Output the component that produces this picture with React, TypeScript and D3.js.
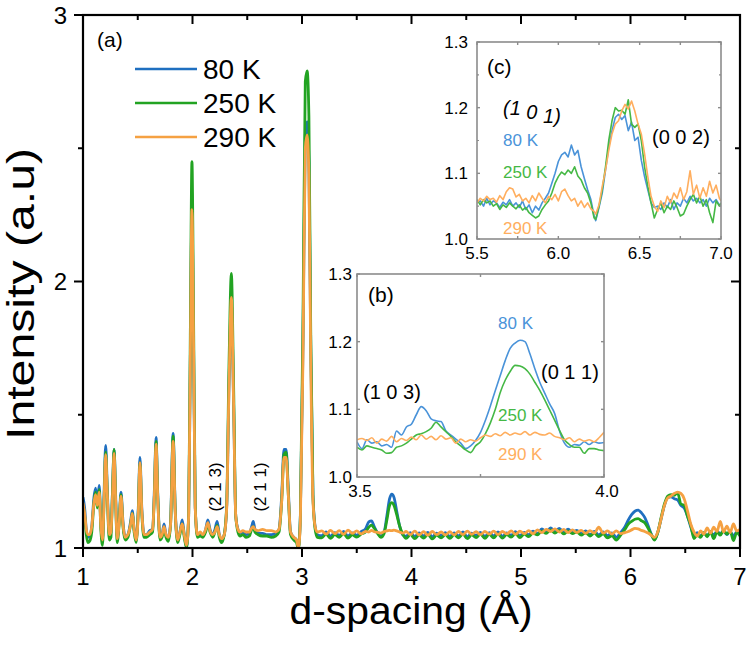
import React from "react";
import * as d3 from "d3";

// ---------------- data ----------------
const mainD = [
  1.0, 1.015, 1.03, 1.045, 1.06, 1.08, 1.1, 1.115, 1.13, 1.148, 1.163, 1.178, 1.192, 1.207, 1.222, 1.24, 1.255, 1.27, 1.284, 1.298,
  1.312, 1.33, 1.347, 1.365, 1.385, 1.41, 1.435, 1.45, 1.467, 1.485, 1.505, 1.52, 1.537, 1.558, 1.58, 1.61, 1.635, 1.652, 1.667, 1.683,
  1.703, 1.722, 1.74, 1.758, 1.78, 1.8, 1.823, 1.842, 1.865, 1.885, 1.906, 1.925, 1.945, 1.965, 1.98, 1.995, 2.01, 2.025, 2.045, 2.07,
  2.095, 2.12, 2.14, 2.16, 2.185, 2.205, 2.225, 2.245, 2.265, 2.29, 2.312, 2.333, 2.355, 2.375, 2.395, 2.415, 2.435, 2.46, 2.49, 2.52,
  2.54, 2.555, 2.57, 2.6, 2.64, 2.68, 2.72, 2.76, 2.79, 2.815, 2.835, 2.855, 2.875, 2.895, 2.925, 2.95, 2.967, 2.985, 3.01, 3.03,
  3.047, 3.063, 3.08, 3.1, 3.12, 3.14, 3.18, 3.22, 3.26, 3.3, 3.34, 3.38, 3.42, 3.46, 3.5, 3.54, 3.58, 3.61, 3.635, 3.66,
  3.69, 3.72, 3.75, 3.775, 3.8, 3.82, 3.84, 3.865, 3.89, 3.92, 3.95, 3.99, 4.03, 4.07, 4.11, 4.15, 4.19, 4.23, 4.27, 4.31,
  4.35, 4.39, 4.43, 4.47, 4.51, 4.55, 4.59, 4.63, 4.67, 4.71, 4.75, 4.79, 4.83, 4.87, 4.91, 4.95, 4.99, 5.03, 5.07, 5.11,
  5.15, 5.19, 5.23, 5.27, 5.31, 5.35, 5.39, 5.43, 5.47, 5.51, 5.55, 5.59, 5.63, 5.67, 5.71, 5.75, 5.79, 5.83, 5.87, 5.91,
  5.95, 5.98, 6.01, 6.04, 6.07, 6.1, 6.13, 6.16, 6.19, 6.22, 6.25, 6.28, 6.31, 6.34, 6.37, 6.4, 6.43, 6.46, 6.49, 6.52,
  6.55, 6.58, 6.61, 6.64, 6.67, 6.7, 6.73, 6.76, 6.79, 6.82, 6.85, 6.88, 6.91, 6.94, 6.97, 7.0,
];
const mainBlue = [
  1.19, 1.15, 1.07, 1.04, 1.045, 1.08, 1.19, 1.225, 1.17, 1.235, 1.09, 1.03, 1.2, 1.385, 1.22, 1.05, 1.06, 1.22, 1.37, 1.2,
  1.04, 1.1, 1.21, 1.1, 1.04, 1.05, 1.1, 1.14, 1.07, 1.03, 1.15, 1.34, 1.15, 1.05, 1.05, 1.065, 1.07, 1.22, 1.415, 1.2,
  1.04, 1.05, 1.09, 1.05, 1.035, 1.1, 1.43, 1.15, 1.03, 1.06, 1.105, 1.05, 1.005, 1.12, 1.7, 2.25, 1.75, 1.15, 1.05, 1.055,
  1.05, 1.07, 1.105, 1.07, 1.05, 1.07, 1.1, 1.05, 1.03, 1.05, 1.15, 1.6, 1.92, 1.55, 1.12, 1.07, 1.055, 1.06, 1.05, 1.055,
  1.08, 1.1, 1.07, 1.055, 1.055, 1.05, 1.05, 1.055, 1.07, 1.2, 1.37, 1.37, 1.22, 1.06, 1.04, 1.03, 1.0, 1.12, 1.8, 2.55,
  2.6, 2.45, 1.75, 1.2, 1.08, 1.05, 1.046, 1.06, 1.044, 1.058, 1.047, 1.062, 1.045, 1.057, 1.048, 1.061, 1.072, 1.098, 1.102, 1.08,
  1.057, 1.045, 1.06, 1.12, 1.185, 1.202, 1.19, 1.138, 1.085, 1.05, 1.044, 1.058, 1.043, 1.057, 1.045, 1.059, 1.042, 1.056, 1.046, 1.058,
  1.043, 1.057, 1.045, 1.06, 1.042, 1.056, 1.047, 1.059, 1.043, 1.058, 1.045, 1.06, 1.044, 1.057, 1.048, 1.061, 1.046, 1.059, 1.05, 1.063,
  1.054, 1.072, 1.06, 1.075, 1.062, 1.074, 1.059, 1.071, 1.06, 1.066, 1.054, 1.064, 1.05, 1.062, 1.049, 1.06, 1.046, 1.057, 1.04, 1.058,
  1.08, 1.105, 1.125, 1.138, 1.142, 1.132, 1.115, 1.085, 1.052, 1.032, 1.06, 1.11, 1.16, 1.19, 1.192, 1.185, 1.18, 1.16, 1.15, 1.12,
  1.08, 1.048, 1.058, 1.044, 1.057, 1.046, 1.06, 1.048, 1.064, 1.052, 1.066, 1.05, 1.062, 1.045, 1.06, 1.05,
];
const mainGreen = [
  1.16, 1.12, 1.05, 1.02, 1.025, 1.06, 1.17, 1.21, 1.15, 1.22, 1.07, 1.01, 1.17, 1.36, 1.2, 1.03, 1.04, 1.22, 1.37, 1.18,
  1.02, 1.09, 1.2, 1.08, 1.03, 1.04, 1.09, 1.13, 1.06, 1.02, 1.14, 1.32, 1.13, 1.04, 1.04, 1.05, 1.06, 1.2, 1.4, 1.19,
  1.03, 1.04, 1.07, 1.04, 1.025, 1.09, 1.42, 1.14, 1.02, 1.05, 1.09, 1.04, 1.0, 1.13, 1.8, 2.45, 1.85, 1.16, 1.04, 1.045,
  1.04, 1.06, 1.09, 1.06, 1.04, 1.06, 1.085, 1.04, 1.02, 1.05, 1.16, 1.68, 2.03, 1.62, 1.12, 1.06, 1.045, 1.05, 1.04, 1.045,
  1.07, 1.08, 1.06, 1.05, 1.045, 1.045, 1.04, 1.045, 1.06, 1.18, 1.35, 1.36, 1.2, 1.05, 1.03, 1.02, 0.995, 1.12, 1.9, 2.75,
  2.79, 2.62, 1.8, 1.2, 1.07, 1.04, 1.038, 1.052, 1.036, 1.05, 1.04, 1.054, 1.037, 1.049, 1.041, 1.052, 1.06, 1.078, 1.086, 1.074,
  1.055, 1.04, 1.055, 1.105, 1.16, 1.17, 1.16, 1.125, 1.085, 1.052, 1.036, 1.05, 1.035, 1.049, 1.037, 1.051, 1.034, 1.048, 1.038, 1.05,
  1.036, 1.05, 1.038, 1.052, 1.035, 1.049, 1.039, 1.052, 1.036, 1.051, 1.038, 1.053, 1.037, 1.05, 1.041, 1.054, 1.039, 1.052, 1.043, 1.056,
  1.049, 1.064, 1.055, 1.068, 1.056, 1.066, 1.053, 1.064, 1.054, 1.06, 1.048, 1.057, 1.045, 1.056, 1.043, 1.053, 1.038, 1.046, 1.03, 1.048,
  1.07, 1.09, 1.1, 1.108, 1.11, 1.102, 1.095, 1.075, 1.05, 1.03, 1.06, 1.115, 1.165, 1.195, 1.2, 1.198, 1.208, 1.165, 1.16, 1.12,
  1.085, 1.035, 1.05, 1.04, 1.058, 1.042, 1.062, 1.035, 1.06, 1.048, 1.066, 1.052, 1.064, 1.028, 1.058, 1.045,
];
const mainOrange = [
  1.17, 1.13, 1.07, 1.05, 1.05, 1.08, 1.17, 1.2, 1.16, 1.21, 1.08, 1.03, 1.17, 1.35, 1.2, 1.05, 1.06, 1.2, 1.355, 1.18,
  1.035, 1.09, 1.195, 1.09, 1.04, 1.05, 1.09, 1.13, 1.07, 1.03, 1.13, 1.32, 1.14, 1.05, 1.05, 1.06, 1.07, 1.2, 1.39, 1.18,
  1.04, 1.05, 1.08, 1.05, 1.04, 1.09, 1.4, 1.14, 1.03, 1.06, 1.09, 1.05, 1.01, 1.12, 1.7, 2.27, 1.75, 1.15, 1.05, 1.06,
  1.05, 1.07, 1.095, 1.065, 1.05, 1.06, 1.08, 1.05, 1.035, 1.05, 1.15, 1.6, 1.94, 1.55, 1.12, 1.07, 1.06, 1.065, 1.06, 1.06,
  1.075, 1.08, 1.07, 1.065, 1.07, 1.065, 1.065, 1.06, 1.07, 1.18, 1.34, 1.34, 1.2, 1.06, 1.04, 1.03, 1.0, 1.1, 1.75, 2.5,
  2.55, 2.4, 1.7, 1.18, 1.08, 1.06, 1.064, 1.052, 1.066, 1.054, 1.065, 1.051, 1.067, 1.055, 1.064, 1.053, 1.062, 1.06, 1.066, 1.061,
  1.059, 1.056, 1.062, 1.064, 1.066, 1.065, 1.067, 1.064, 1.06, 1.056, 1.062, 1.05, 1.063, 1.049, 1.061, 1.048, 1.062, 1.05, 1.06, 1.049,
  1.061, 1.049, 1.062, 1.05, 1.063, 1.051, 1.061, 1.05, 1.062, 1.052, 1.063, 1.05, 1.062, 1.053, 1.064, 1.051, 1.063, 1.054, 1.065, 1.053,
  1.068, 1.058, 1.07, 1.062, 1.072, 1.06, 1.07, 1.058, 1.068, 1.058, 1.066, 1.055, 1.065, 1.056, 1.078, 1.056, 1.064, 1.052, 1.064, 1.054,
  1.058, 1.062, 1.068, 1.074, 1.072, 1.066, 1.062, 1.056, 1.048, 1.04, 1.062, 1.11, 1.16, 1.188, 1.195, 1.205, 1.21, 1.205, 1.185, 1.14,
  1.09, 1.06, 1.045, 1.064, 1.052, 1.075, 1.056, 1.078, 1.062, 1.1, 1.06, 1.082, 1.058, 1.09, 1.064, 1.07,
];

// inset (b): 3.5 – 4.0
const insetBD = [
  3.5, 3.51, 3.52, 3.53, 3.54, 3.55, 3.56, 3.57, 3.58, 3.59, 3.6, 3.61, 3.62, 3.63, 3.64, 3.65, 3.66, 3.67, 3.68, 3.69,
  3.7, 3.71, 3.72, 3.73, 3.74, 3.75, 3.76, 3.77, 3.78, 3.79, 3.8, 3.81, 3.82, 3.83, 3.84, 3.85, 3.86, 3.87, 3.88, 3.89,
  3.9, 3.91, 3.92, 3.93, 3.94, 3.95, 3.96, 3.97, 3.98, 3.99, 4.0,
];
const insetBBlue = [
  1.052, 1.042, 1.055, 1.05, 1.052, 1.046, 1.048, 1.044, 1.068, 1.062, 1.074, 1.078, 1.092, 1.104, 1.098, 1.086, 1.083, 1.082, 1.068, 1.062,
  1.056, 1.05, 1.042, 1.046, 1.054, 1.066, 1.084, 1.105, 1.128, 1.15, 1.172, 1.19, 1.198, 1.202, 1.2, 1.182, 1.16, 1.14, 1.124, 1.108,
  1.094, 1.068, 1.05, 1.044, 1.048, 1.047, 1.052, 1.048, 1.052, 1.05, 1.051,
];
const insetBGreen = [
  1.044, 1.04, 1.046, 1.044, 1.042, 1.04, 1.035, 1.036, 1.044, 1.046, 1.05, 1.056, 1.062, 1.064, 1.067, 1.072, 1.081, 1.074, 1.067, 1.06,
  1.052, 1.046, 1.04, 1.036, 1.046, 1.052, 1.064, 1.08, 1.1, 1.125, 1.143, 1.156, 1.165, 1.164, 1.16, 1.152, 1.14, 1.128, 1.114, 1.099,
  1.084, 1.069, 1.055, 1.048, 1.044, 1.044, 1.035, 1.042, 1.042, 1.04, 1.039,
];
const insetBOrange = [
  1.055, 1.057, 1.054, 1.058, 1.05, 1.056, 1.053, 1.06, 1.052, 1.057, 1.054, 1.059, 1.055, 1.062, 1.056, 1.06, 1.055, 1.061, 1.056, 1.058,
  1.05, 1.056, 1.052, 1.055, 1.053, 1.058, 1.062, 1.06, 1.064, 1.061, 1.066, 1.062, 1.065, 1.063, 1.067, 1.062, 1.066, 1.063, 1.062, 1.065,
  1.06, 1.058, 1.055, 1.058, 1.052, 1.056, 1.053, 1.055, 1.052, 1.058, 1.066,
];

// inset (c): 5.5 – 7.0
const insetCD = [
  5.5, 5.52, 5.54, 5.56, 5.58, 5.6, 5.62, 5.64, 5.66, 5.68, 5.7, 5.72, 5.74, 5.76, 5.78, 5.8, 5.82, 5.84, 5.86, 5.88,
  5.9, 5.92, 5.94, 5.96, 5.98, 6.0, 6.02, 6.04, 6.06, 6.08, 6.1, 6.12, 6.14, 6.16, 6.18, 6.2, 6.22, 6.23, 6.25, 6.27,
  6.29, 6.31, 6.33, 6.35, 6.37, 6.39, 6.41, 6.43, 6.45, 6.47, 6.49, 6.51, 6.53, 6.55, 6.57, 6.59, 6.61, 6.63, 6.65, 6.67,
  6.69, 6.71, 6.73, 6.75, 6.77, 6.79, 6.81, 6.83, 6.85, 6.87, 6.89, 6.91, 6.93, 6.95, 6.97, 6.99, 7.0,
];
const insetCBlue = [
  1.055, 1.058, 1.05, 1.062, 1.052, 1.058, 1.055, 1.048, 1.056, 1.052, 1.06, 1.05, 1.055, 1.048, 1.058, 1.045, 1.052, 1.04, 1.05, 1.044,
  1.055, 1.062, 1.07, 1.085, 1.1, 1.118, 1.128, 1.132, 1.125, 1.143, 1.128, 1.135, 1.11, 1.092, 1.075, 1.06, 1.035, 1.028, 1.048, 1.07,
  1.105, 1.14, 1.165, 1.185, 1.19, 1.182, 1.188, 1.165, 1.178, 1.15, 1.155, 1.12, 1.095, 1.075, 1.055, 1.048, 1.05, 1.045, 1.055, 1.048,
  1.06, 1.045, 1.055, 1.05, 1.062, 1.055, 1.065, 1.058, 1.062, 1.055, 1.06, 1.05, 1.062, 1.055, 1.06, 1.052, 1.05,
];
const insetCGreen = [
  1.06, 1.052, 1.06, 1.055, 1.058, 1.05, 1.054, 1.045, 1.052, 1.048, 1.055, 1.05, 1.046, 1.052, 1.044, 1.048, 1.04, 1.036, 1.032, 1.035,
  1.045, 1.052, 1.058, 1.07, 1.085, 1.095, 1.102, 1.098, 1.105, 1.1, 1.11, 1.096, 1.09, 1.078, 1.07, 1.055, 1.032, 1.03, 1.05, 1.075,
  1.11, 1.15, 1.18, 1.2, 1.195, 1.196, 1.19, 1.212, 1.175, 1.17, 1.175, 1.15, 1.11, 1.08, 1.055, 1.032, 1.045, 1.055, 1.04, 1.05,
  1.045, 1.058, 1.048, 1.035, 1.038, 1.05, 1.06, 1.068, 1.055, 1.065, 1.05, 1.06, 1.04, 1.025, 1.058, 1.05, 1.055,
];
const insetCOrange = [
  1.055, 1.062, 1.058, 1.065, 1.06, 1.062, 1.056, 1.066, 1.06, 1.072, 1.078, 1.076, 1.064, 1.068, 1.058, 1.062, 1.055, 1.066, 1.058, 1.07,
  1.062, 1.055, 1.065, 1.06, 1.068, 1.058, 1.072, 1.076, 1.066, 1.058, 1.062, 1.05, 1.058, 1.048, 1.055, 1.046, 1.042, 1.038, 1.052, 1.08,
  1.105, 1.135, 1.16, 1.175, 1.18, 1.195, 1.205, 1.198, 1.21, 1.195, 1.175, 1.16, 1.13, 1.095, 1.065, 1.05, 1.042, 1.058, 1.048, 1.065,
  1.055, 1.07, 1.062, 1.078, 1.06, 1.072, 1.104, 1.068, 1.082, 1.062, 1.078, 1.065, 1.088, 1.07, 1.082, 1.062, 1.058,
];

const seriesNames = ["80 K", "250 K", "290 K"];
const mainColors = ["#1f6fc0", "#22a322", "#f5a142"];
const insetColors = ["#4a93d9", "#45b845", "#ffae5e"];

const mainXTicks = [1, 2, 3, 4, 5, 6, 7];
const mainXMinor = [1.5, 2.5, 3.5, 4.5, 5.5, 6.5];
const mainYTicks = [1, 2, 3];
const mainYMinor = [1.5, 2.5];

const insetBXTickLabels = [3.5, 4.0];
const insetBXTicks = [3.5, 3.75, 4.0];
const insetBYTicks = [1.0, 1.1, 1.2, 1.3];
const insetCXTickLabels = [5.5, 6.0, 6.5, 7.0];
const insetCXTicks = [5.5, 5.75, 6.0, 6.25, 6.5, 6.75, 7.0];
const insetCYTicks = [1.0, 1.1, 1.2, 1.3];
const insetCYMinor = [1.05, 1.15, 1.25];

const FONT = "'Liberation Sans', Arial, Helvetica, sans-serif";

type Pt = [number, number];
const zip = (xs: number[], ys: number[]): Pt[] => xs.map((v, i) => [v, ys[i]] as Pt);

export default function App() {
  // main scales
  const L = 83, R = 740, T = 15, B = 548;
  const x = d3.scaleLinear().domain([1, 7]).range([L, R]);
  const y = d3.scaleLinear().domain([1, 3]).range([B, T]);
  const mainLine = d3
    .line<Pt>()
    .x((d) => x(d[0]))
    .y((d) => y(d[1]))
    .curve(d3.curveMonotoneX);
  const mainSeries = [mainBlue, mainGreen, mainOrange].map((s) => zip(mainD, s));

  // inset b
  const bL = 357, bR = 604, bT = 274, bB = 477;
  const bx = d3.scaleLinear().domain([3.5, 4.0]).range([bL, bR]);
  const by = d3.scaleLinear().domain([1.0, 1.3]).range([bB, bT]);
  const bLine = d3
    .line<Pt>()
    .x((d) => bx(d[0]))
    .y((d) => by(d[1]))
    .curve(d3.curveMonotoneX);
  const bSeries = [insetBBlue, insetBGreen, insetBOrange].map((s) => zip(insetBD, s));

  // inset c
  const cL = 477, cR = 721, cT = 42, cB = 239;
  const cx = d3.scaleLinear().domain([5.5, 7.0]).range([cL, cR]);
  const cy = d3.scaleLinear().domain([1.0, 1.3]).range([cB, cT]);
  const cLine = d3
    .line<Pt>()
    .x((d) => cx(d[0]))
    .y((d) => cy(d[1]))
    .curve(d3.curveLinear);
  const cSeries = [insetCBlue, insetCGreen, insetCOrange].map((s) => zip(insetCD, s));

  const insetStroke = "#8c8c8c";

  return (
    <svg
      width={750}
      height={646}
      viewBox="0 0 750 646"
      style={{ position: "absolute", left: 0, top: 0, background: "#fff" }}
      fontFamily={FONT}
    >
      <defs>
        <clipPath id="mainClip">
          <rect x={L} y={T} width={R - L} height={B - T} />
        </clipPath>
        <clipPath id="bClip">
          <rect x={bL} y={bT} width={bR - bL} height={bB - bT} />
        </clipPath>
        <clipPath id="cClip">
          <rect x={cL} y={cT} width={cR - cL} height={cB - cT} />
        </clipPath>
      </defs>

      {/* main lines */}
      <g clipPath="url(#mainClip)">
        {mainSeries.map((s, i) => (
          <path key={i} d={mainLine(s) || ""} fill="none" stroke={mainColors[i]} strokeWidth={2.8} strokeLinejoin="round" />
        ))}
      </g>

      {/* main frame */}
      <rect x={L} y={T} width={R - L} height={B - T} fill="none" stroke="#000" strokeWidth={2.2} />
      {mainXTicks.map((t) => (
        <g key={"xt" + t}>
          <line x1={x(t)} x2={x(t)} y1={B} y2={B + 9} stroke="#000" strokeWidth={2} />
          <line x1={x(t)} x2={x(t)} y1={T} y2={T + 9} stroke="#000" strokeWidth={2} />
          <text x={x(t)} y={585} textAnchor="middle" fontSize={24}>
            {t}
          </text>
        </g>
      ))}
      {mainXMinor.map((t) => (
        <g key={"xm" + t}>
          <line x1={x(t)} x2={x(t)} y1={B} y2={B + 5} stroke="#000" strokeWidth={2} />
          <line x1={x(t)} x2={x(t)} y1={T} y2={T + 5} stroke="#000" strokeWidth={2} />
        </g>
      ))}
      {mainYTicks.map((t) => (
        <g key={"yt" + t}>
          <line x1={L - 9} x2={L} y1={y(t)} y2={y(t)} stroke="#000" strokeWidth={2} />
          <line x1={R - 9} x2={R} y1={y(t)} y2={y(t)} stroke="#000" strokeWidth={2} />
          <text x={67} y={y(t) + 8.5} textAnchor="end" fontSize={24}>
            {t}
          </text>
        </g>
      ))}
      {mainYMinor.map((t) => (
        <g key={"ym" + t}>
          <line x1={L - 5} x2={L} y1={y(t)} y2={y(t)} stroke="#000" strokeWidth={2} />
          <line x1={R - 5} x2={R} y1={y(t)} y2={y(t)} stroke="#000" strokeWidth={2} />
        </g>
      ))}

      {/* axis titles */}
      <text x={411} y={624} textAnchor="middle" fontSize={38} textLength={243} lengthAdjust="spacingAndGlyphs">
        d-spacing (Å)
      </text>
      <text
        transform="translate(34,294) rotate(-90)"
        textAnchor="middle"
        fontSize={38}
        textLength={292}
        lengthAdjust="spacingAndGlyphs"
      >
        Intensity (a.u)
      </text>

      {/* panel label + legend */}
      <text x={97} y={47} fontSize={21}>
        (a)
      </text>
      {seriesNames.map((n, i) => (
        <g key={n}>
          <line x1={135} x2={197} y1={69 + i * 34} y2={69 + i * 34} stroke={mainColors[i]} strokeWidth={2.5} />
          <text x={203} y={79 + i * 34} fontSize={28}>
            {n}
          </text>
        </g>
      ))}

      {/* main annotations */}
      <text transform="translate(215,487) rotate(-90)" textAnchor="middle" dominantBaseline="central" fontSize={17}>
        (2 1 3)
      </text>
      <text transform="translate(260,487) rotate(-90)" textAnchor="middle" dominantBaseline="central" fontSize={17}>
        (2 1 1)
      </text>

      {/* inset b */}
      <rect x={bL} y={bT} width={bR - bL} height={bB - bT} fill="#fff" />
      <g clipPath="url(#bClip)">
        {bSeries.map((s, i) => (
          <path key={i} d={bLine(s) || ""} fill="none" stroke={insetColors[i]} strokeWidth={1.6} strokeLinejoin="round" />
        ))}
      </g>
      <rect x={bL} y={bT} width={bR - bL} height={bB - bT} fill="none" stroke={insetStroke} strokeWidth={1.6} />
      {insetBXTicks.map((t) => (
        <g key={"bxt" + t}>
          <line x1={bx(t)} x2={bx(t)} y1={bB} y2={bB - 3} stroke={insetStroke} strokeWidth={1.4} />
          <line x1={bx(t)} x2={bx(t)} y1={bT} y2={bT + 3} stroke={insetStroke} strokeWidth={1.4} />
        </g>
      ))}
      {insetBXTickLabels.map((t) => (
        <text key={"bxl" + t} x={bx(t) + 3} y={497} textAnchor="middle" fontSize={17}>
          {t.toFixed(1)}
        </text>
      ))}
      {insetBYTicks.map((t) => (
        <g key={"byt" + t}>
          <line x1={bL} x2={bL + 3} y1={by(t)} y2={by(t)} stroke={insetStroke} strokeWidth={1.4} />
          <line x1={bR} x2={bR - 3} y1={by(t)} y2={by(t)} stroke={insetStroke} strokeWidth={1.4} />
          <text x={352} y={by(t) + 6} textAnchor="end" fontSize={17}>
            {t.toFixed(1)}
          </text>
        </g>
      ))}
      <text x={368} y={302} fontSize={21}>
        (b)
      </text>
      <text x={498} y={329} fontSize={17} fill={insetColors[0]}>
        80 K
      </text>
      <text x={541} y={379} fontSize={20}>
        (0 1 1)
      </text>
      <text x={363} y={399} fontSize={20}>
        (1 0 3)
      </text>
      <text x={498} y={421} fontSize={17} fill={insetColors[1]}>
        250 K
      </text>
      <text x={498} y={460} fontSize={17} fill={insetColors[2]}>
        290 K
      </text>

      {/* inset c */}
      <rect x={cL} y={cT} width={cR - cL} height={cB - cT} fill="#fff" />
      <g clipPath="url(#cClip)">
        {cSeries.map((s, i) => (
          <path key={i} d={cLine(s) || ""} fill="none" stroke={insetColors[i]} strokeWidth={1.6} strokeLinejoin="round" />
        ))}
      </g>
      <rect x={cL} y={cT} width={cR - cL} height={cB - cT} fill="none" stroke={insetStroke} strokeWidth={1.6} />
      {insetCXTicks.map((t) => (
        <g key={"cxt" + t}>
          <line x1={cx(t)} x2={cx(t)} y1={cB} y2={cB - 3} stroke={insetStroke} strokeWidth={1.4} />
          <line x1={cx(t)} x2={cx(t)} y1={cT} y2={cT + 3} stroke={insetStroke} strokeWidth={1.4} />
        </g>
      ))}
      {insetCXTickLabels.map((t) => (
        <text key={"cxl" + t} x={cx(t)} y={259} textAnchor="middle" fontSize={17}>
          {t.toFixed(1)}
        </text>
      ))}
      {insetCYTicks.map((t) => (
        <g key={"cyt" + t}>
          <line x1={cL} x2={cL + 3} y1={cy(t)} y2={cy(t)} stroke={insetStroke} strokeWidth={1.4} />
          <line x1={cR} x2={cR - 3} y1={cy(t)} y2={cy(t)} stroke={insetStroke} strokeWidth={1.4} />
          <text x={468} y={cy(t) + 6} textAnchor="end" fontSize={17}>
            {t.toFixed(1)}
          </text>
        </g>
      ))}
      {insetCYMinor.map((t) => (
        <g key={"cym" + t}>
          <line x1={cL} x2={cL + 2} y1={cy(t)} y2={cy(t)} stroke={insetStroke} strokeWidth={1.2} />
          <line x1={cR} x2={cR - 2} y1={cy(t)} y2={cy(t)} stroke={insetStroke} strokeWidth={1.2} />
        </g>
      ))}
      <text x={487} y={74} fontSize={21}>
        (c)
      </text>
      <text x={503} fontSize={20} fontStyle="italic">
        <tspan y={115}>(1</tspan>
        <tspan y={119}> 0</tspan>
        <tspan y={123}> 1)</tspan>
      </text>
      <text x={503} y={146} fontSize={17} fill={insetColors[0]}>
        80 K
      </text>
      <text x={503} y={178} fontSize={17} fill={insetColors[1]}>
        250 K
      </text>
      <text x={503} y={234} fontSize={17} fill={insetColors[2]}>
        290 K
      </text>
      <text x={652} y={144} fontSize={20}>
        (0 0 2)
      </text>
    </svg>
  );
}
